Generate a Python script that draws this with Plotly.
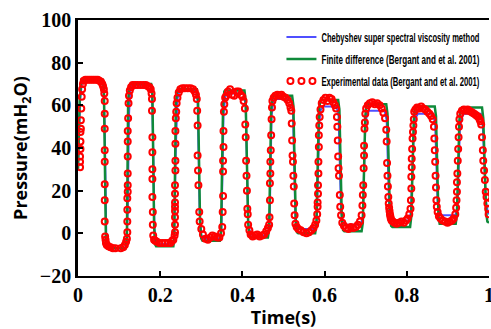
import plotly.graph_objects as go

# ---------------- data ----------------
# Chebyshev super spectral viscosity method (vertices of the curve)
cheb_t = [0.000, 0.005, 0.009, 0.012, 0.059, 0.062, 0.065, 0.067, 0.069, 0.073, 0.080, 0.114, 0.118, 0.121, 0.124, 0.127, 0.131,
          0.176, 0.180, 0.183, 0.186, 0.190, 0.196, 0.230, 0.234, 0.238, 0.242, 0.247, 0.287, 0.291, 0.296, 0.300, 0.307,
          0.344, 0.349, 0.354, 0.358, 0.363, 0.403, 0.408, 0.414, 0.419, 0.425, 0.461, 0.466, 0.471, 0.475, 0.480,
          0.518, 0.523, 0.529, 0.534, 0.540, 0.576, 0.581, 0.587, 0.591, 0.597, 0.629, 0.634, 0.640, 0.645, 0.652,
          0.688, 0.693, 0.699, 0.703, 0.709, 0.746, 0.751, 0.757, 0.762, 0.768, 0.805, 0.810, 0.817, 0.821, 0.827,
          0.864, 0.869, 0.875, 0.880, 0.886, 0.918, 0.923, 0.929, 0.933, 0.939, 0.980, 0.985, 0.992, 0.997, 1.000]
cheb_p = [30, 62, 70, 71.5, 71.5, 69, 50, 10, -3, -6, -7, -7, -5, 10, 55, 67, 69.5,
          69.5, 66, 40, 2, -4, -5, -5, -3, 40, 63, 67, 67, 62, 10, -1, -2.5,
          -2.5, 2, 55, 64, 65.5, 65.5, 60, 5, 0, -1, -1, 3, 55, 62, 63,
          63, 58, 6, 2.5, 2, 2, 6, 52, 58, 59.5, 59.5, 55, 10, 5, 4,
          4, 8, 50, 56, 57.5, 57.5, 53, 12, 7, 6, 6, 10, 48, 54, 56,
          56, 51, 14, 9, 8.5, 8.5, 12, 48, 54, 56, 56, 50, 16, 10, 9]

# Finite difference (Bergant and et al. 2001) (vertices of the curve)
fd_t = [0.000, 0.004, 0.008, 0.060, 0.063, 0.066, 0.068, 0.072, 0.116, 0.119, 0.122, 0.125, 0.128,
        0.178, 0.181, 0.185, 0.187, 0.190, 0.232, 0.234, 0.238, 0.241, 0.243, 0.289, 0.292, 0.297, 0.300, 0.303,
        0.345, 0.348, 0.353, 0.356, 0.358, 0.405, 0.408, 0.414, 0.417, 0.420, 0.462, 0.465, 0.470, 0.473, 0.476,
        0.521, 0.524, 0.530, 0.533, 0.536, 0.577, 0.580, 0.586, 0.589, 0.592, 0.633, 0.636, 0.642, 0.645, 0.648,
        0.690, 0.693, 0.699, 0.702, 0.705, 0.750, 0.753, 0.759, 0.762, 0.765, 0.808, 0.811, 0.817, 0.820, 0.823,
        0.868, 0.871, 0.877, 0.880, 0.883, 0.919, 0.922, 0.928, 0.931, 0.934, 0.983, 0.986, 0.993, 0.996, 1.000]
fd_p = [30, 62, 72, 72, 68, 10, -5, -7, -7, -2, 62, 69.5, 70,
        70, 66, 5, -5, -6, -6, -3, 60, 67, 67.5, 67.5, 63, 5, -2.5, -3.5,
        -3.5, 0, 60, 66.5, 67, 67, 62, 5, -1, -2, -2, 2, 58, 64, 64.5,
        64.5, 60, 5, 0.5, 0, 0, 4, 56, 62, 62.5, 62.5, 58, 6, 1.5, 1,
        1, 5, 55, 60, 60.5, 60.5, 56, 8, 3.5, 3, 3, 8, 53, 59, 59.5,
        59.5, 55, 8, 4.5, 4.5, 4.5, 9, 53, 58.5, 59, 59, 54, 10, 5.5, 5]

# Experimental data (Bergant and et al. 2001)
exp_t = [0.005, 0.005, 0.005, 0.006, 0.006, 0.006, 0.007, 0.007, 0.008, 0.009, 0.010, 0.012,
         0.014, 0.018, 0.023, 0.028, 0.033, 0.038, 0.043, 0.048, 0.052, 0.056, 0.059, 0.061, 0.063,
         0.064, 0.065, 0.065, 0.065, 0.065, 0.065, 0.065, 0.065, 0.065, 0.066,
         0.067, 0.068, 0.070, 0.074, 0.079, 0.085, 0.091, 0.104, 0.110, 0.114, 0.117,
         0.119, 0.120, 0.120, 0.120, 0.120, 0.121, 0.121, 0.121, 0.121, 0.121, 0.121, 0.122, 0.123, 0.124, 0.126,
         0.129, 0.133, 0.139, 0.145, 0.152, 0.159, 0.165, 0.170, 0.174, 0.177,
         0.179, 0.180, 0.180, 0.181, 0.181, 0.181, 0.181, 0.181, 0.182, 0.182,
         0.183, 0.185, 0.188, 0.192, 0.198, 0.205, 0.212, 0.219, 0.225, 0.229, 0.232,
         0.235, 0.236, 0.236, 0.236, 0.236, 0.236, 0.236, 0.236, 0.236, 0.237, 0.237, 0.237, 0.237, 0.238, 0.239,
         0.240, 0.242, 0.245,
         0.249, 0.254, 0.260, 0.267, 0.274, 0.280, 0.284, 0.287, 0.289,
         0.290, 0.291, 0.291, 0.292, 0.293, 0.295, 0.296,
         0.300, 0.304, 0.310, 0.316, 0.322, 0.327, 0.333, 0.339, 0.344, 0.348,
         0.351, 0.352, 0.353, 0.353, 0.353, 0.354, 0.354, 0.355, 0.356, 0.358,
         0.361, 0.365, 0.370, 0.375, 0.380, 0.386, 0.391, 0.396, 0.400, 0.403,
         0.406, 0.407, 0.408, 0.409, 0.410, 0.411, 0.412, 0.413, 0.414,
         0.417, 0.420, 0.425, 0.431, 0.436, 0.442, 0.448, 0.453, 0.458, 0.462,
         0.465, 0.466, 0.467, 0.467, 0.468, 0.468, 0.469, 0.470, 0.471, 0.472, 0.473,
         0.476, 0.480, 0.485, 0.490, 0.495, 0.500, 0.505, 0.510, 0.514, 0.517,
         0.519, 0.520, 0.521, 0.522, 0.523, 0.524, 0.525, 0.526, 0.527,
         0.529, 0.532, 0.536, 0.542, 0.549, 0.556, 0.562, 0.568, 0.573, 0.577, 0.580,
         0.582, 0.583, 0.583, 0.584, 0.584, 0.585, 0.585, 0.586, 0.586, 0.587, 0.588, 0.590,
         0.593, 0.597, 0.602, 0.607, 0.612, 0.617, 0.621, 0.625, 0.628,
         0.630, 0.631, 0.632, 0.633, 0.634, 0.635, 0.637, 0.638,
         0.640, 0.643, 0.647, 0.652, 0.658, 0.664, 0.670, 0.676, 0.681, 0.686, 0.690,
         0.692, 0.693, 0.694, 0.695, 0.696, 0.696, 0.697, 0.698, 0.699,
         0.701, 0.705, 0.710, 0.716, 0.722, 0.728, 0.734, 0.739, 0.743, 0.747,
         0.750, 0.751, 0.752, 0.753, 0.754, 0.755, 0.756,
         0.757, 0.758, 0.759, 0.760, 0.761, 0.763, 0.766, 0.770, 0.775, 0.781, 0.787, 0.793, 0.798, 0.802, 0.806,
         0.809, 0.810, 0.811, 0.811, 0.812, 0.812, 0.813, 0.814, 0.815, 0.816, 0.817, 0.818,
         0.821, 0.825, 0.830, 0.835, 0.840, 0.845, 0.850, 0.855, 0.859, 0.863,
         0.866, 0.867, 0.868, 0.869, 0.870, 0.871, 0.872, 0.873,
         0.875, 0.878, 0.882, 0.887, 0.893, 0.899, 0.905, 0.910, 0.914, 0.918,
         0.920, 0.921, 0.922, 0.922, 0.923, 0.924, 0.925, 0.926, 0.927, 0.928, 0.930,
         0.934, 0.939, 0.944, 0.948, 0.952, 0.956, 0.960, 0.964, 0.968, 0.971, 0.974, 0.977, 0.979,
         0.981, 0.983, 0.985, 0.986, 0.988, 0.990, 0.992, 0.994, 0.996, 0.998, 0.999]
exp_p = [31, 33.5, 36, 39.5, 43, 47.5, 49, 53, 58.5, 64, 67.5, 70,
         71.5, 72, 72, 72, 72, 72, 72, 72, 71.5, 71, 70, 69, 67.5,
         65.5, 62, 56, 49, 39, 33.5, 23, 15.5, 5.5, -1.5,
         -3, -4.5, -5.5, -6, -6.5, -7, -7, -7, -6.5, -5.5, -4,
         -2.5, 0.5, 5.5, 11, 16.5, 19.5, 22.5, 28, 36, 43, 48, 54, 61, 64.5, 67,
         68.5, 69.5, 69.5, 69.5, 69.5, 69.5, 69.5, 69, 68.5, 67.5,
         65.5, 63, 57.5, 45, 38, 30, 25.5, 17, 10, 4,
         -1, -3, -3.5, -4, -4.5, -4.5, -4.5, -4.5, -4.5, -3.5, -3,
         -1, 0.5, 4, 7.5, 10.5, 12.5, 14.5, 18.5, 22.5, 29.5, 34, 42, 48, 54, 57,
         61, 63.5, 66,
         67.5, 68, 68, 68, 68, 67.5, 66.5, 65, 63,
         57.5, 50.5, 36.5, 29.5, 22.5, 10, 5.5,
         2, -0.5, -2.5, -3, -2, -1, -1.5, -2, -2, 0,
         3, 10, 17.5, 29, 34, 40.5, 48, 57, 60.5, 63.5,
         64.5, 66.5, 67.5, 65, 64.5, 66.5, 66.5, 65, 64, 62,
         58.5, 51, 45, 34, 27, 20, 11.5, 9, 4,
         1.5, -0.5, -1.5, -1, -0.5, -1.5, -1, -0.5, 1, 2.5,
         4, 7.5, 15.5, 23.5, 28, 33.5, 39, 46, 53.5, 59, 62,
         63.5, 64.5, 65, 64.5, 65, 64, 63.5, 62.5, 61, 59,
         57.5, 51.5, 43.5, 36.5, 33.5, 27, 22, 14, 8.5,
         4.5, 3, 2, 1.5, 0.5, 0, 0.5, 1.5, 2.5, 4, 6,
         9, 12.5, 14.5, 18.5, 22.5, 28, 33.5, 40.5, 46, 50.5, 54.5, 58,
         61, 62.5, 63.5, 62, 63.5, 63, 61.5, 60, 58.5,
         54.5, 50, 43.5, 36, 30.5, 27, 18, 12.5,
         8.5, 5, 3.5, 2.5, 2, 3, 2.5, 3, 4, 5.5, 8.5,
         13, 18, 22.5, 30.5, 36.5, 41, 49, 52, 56,
         58.5, 60, 61, 61.5, 60.5, 61, 60, 58.5, 56.5, 54,
         48.5, 43, 33, 27, 22, 17, 14,
         12, 10.5, 9, 8, 7, 6, 5.5, 5, 4.5, 5, 5.5, 5, 6, 7, 9,
         11.5, 15.5, 21, 26.5, 31, 35, 39.5, 44.5, 47.5, 50.5, 53.5, 57,
         58, 59, 58.5, 59.5, 58.5, 58, 57, 56, 55, 53.5,
         50, 44.5, 39, 33.5, 27, 21.5, 15.5, 12.5,
         10, 8, 7, 6, 5.5, 5, 5.5, 6, 7, 9,
         12, 15.5, 19.5, 24, 28, 34, 39.5, 45, 50, 53.5, 56,
         57.5, 58, 57.5, 58, 57.5, 57, 56.5, 56, 55.5, 55, 54.5, 53.5, 52.5,
         51, 45, 39, 34, 29.5, 25, 19.5, 17, 14, 11.5, 9]

x_ticks = [0, 0.2, 0.4, 0.6, 0.8, 1]
x_tick_text = ["0", "0.2", "0.4", "0.6", "0.8", "1"]
y_ticks = [-20, 0, 20, 40, 60, 80, 100]

# ---------------- figure ----------------
fig = go.Figure()
fig.add_trace(go.Scatter(x=cheb_t, y=cheb_p, mode="lines", legendgroup="a",
                         name="Chebyshev super spectral viscosity method",
                         line=dict(color="#4f4fff", width=2)))
fig.add_trace(go.Scatter(x=fd_t, y=fd_p, mode="lines", legendgroup="b",
                         name="Finite difference (Bergant and et al. 2001)",
                         line=dict(color="#0f8a3a", width=2.5)))
fig.add_trace(go.Scatter(x=exp_t, y=exp_p, mode="markers", legendgroup="c",
                         name="Experimental data (Bergant and et al. 2001)",
                         marker=dict(symbol="circle-open", size=6, color="#ff0000",
                                     line=dict(color="#ff0000", width=2))))

tick_font = dict(family="Liberation Serif, Times New Roman, serif", size=20,
                 color="black", weight="bold")
title_font = dict(family="Open Sans, Noto Sans, sans-serif", size=18,
                  color="black", weight="bold")

fig.update_layout(
    width=491, height=329,
    margin=dict(l=78, r=2, t=20, b=53, autoexpand=False),
    paper_bgcolor="white", plot_bgcolor="white",
    showlegend=True,
    legend=dict(x=0.495, y=0.99, xanchor="left", yanchor="top",
                bgcolor="rgba(0,0,0,0)", borderwidth=0,
                font=dict(family="Liberation Sans, Arial, sans-serif",
                          size=12, color="black", weight="bold"),
                traceorder="grouped", tracegroupgap=3, itemwidth=30),
)
fig.update_xaxes(range=[0, 1], tickvals=x_ticks, ticktext=x_tick_text,
                 ticklabeloverflow="allow",
                 showgrid=False, zeroline=False,
                 showline=True, linecolor="black", linewidth=2, mirror=True,
                 ticks="inside", ticklen=5, tickwidth=2, tickcolor="black",
                 tickfont=tick_font,
                 title=dict(text="Time(s)", font=title_font, standoff=8))
fig.update_yaxes(range=[-20, 100], tickvals=y_ticks,
                 showgrid=False, zeroline=False,
                 showline=True, linecolor="black", linewidth=2.5, mirror=False,
                 ticks="inside", ticklen=5, tickwidth=2, tickcolor="black",
                 tickfont=tick_font,
                 title=dict(text="Pressure(mH<sub>2</sub>O)", font=title_font, standoff=8))

# The reference legend uses a condensed bold face: squeeze the legend texts
# horizontally and show the marker sample as three circles.
post_js = """
var gd = document.getElementById('{plot_id}');
function tidyLegend(){
  gd.querySelectorAll('.legendtext').forEach(function(t){
    t.setAttribute('textLength', '158');
    t.setAttribute('lengthAdjust', 'spacingAndGlyphs');
  });
  var groups = gd.querySelectorAll('.legend .traces');
  if (groups.length >= 3) {
    var g = groups[2];
    var pts = g.querySelectorAll('path.scatterpts');
    if (pts.length === 1) {
      var p = pts[0];
      var par = p.parentNode;
      p.setAttribute('transform', 'translate(9,0)');
      [20, 31].forEach(function(dx){
        var c = p.cloneNode(true);
        c.setAttribute('transform', 'translate(' + dx + ',0)');
        par.appendChild(c);
      });
    }
  }
}
tidyLegend();
gd.on('plotly_afterplot', tidyLegend);
"""

fig.write_html("out.html", post_script=post_js)
